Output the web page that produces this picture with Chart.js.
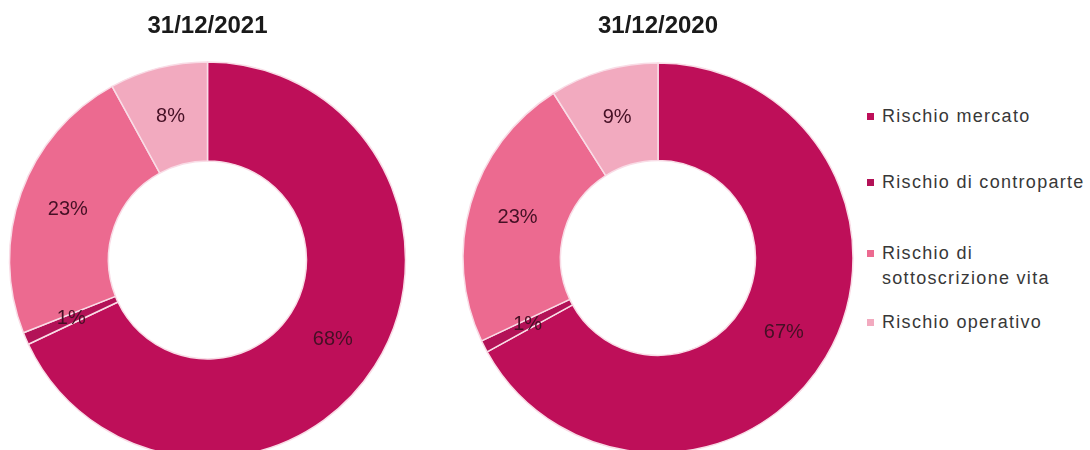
<!DOCTYPE html>
<html lang="it">
  <head>
    <meta charset="UTF-8" />
    <title>Requisito di capitale per rischio</title>
    <style>
      body {
        margin: 0;
        width: 1090px;
        height: 450px;
        overflow: hidden;
        background: #ffffff;
        font-family: Arial, "Liberation Sans", sans-serif;
        position: relative;
      }
      .chart-box {
        position: absolute;
        top: 0;
      }
      #box2021 {
        left: 0;
      }
      #box2020 {
        left: 451px;
      }
      #legend {
        position: absolute;
        left: 866px;
        top: 0;
        width: 224px;
        height: 450px;
      }
      .legend-item {
        position: absolute;
        left: 0;
        font-size: 18px;
        letter-spacing: 1.3px;
        line-height: 25px;
        color: #383838;
        padding-left: 16px;
        white-space: nowrap;
      }
      .legend-item .swatch {
        position: absolute;
        left: 1px;
        top: 9px;
        width: 7px;
        height: 7px;
      }
      .legend-item:nth-child(1) { top: 104px; }
      .legend-item:nth-child(2) { top: 170px; }
      .legend-item:nth-child(3) { top: 241px; }
      .legend-item:nth-child(4) { top: 310px; }
    </style>
  </head>
  <body>
    <div class="chart-box" id="box2021">
      <canvas id="chart2021" width="415" height="458"></canvas>
    </div>
    <div class="chart-box" id="box2020">
      <canvas id="chart2020" width="414" height="454"></canvas>
    </div>
    <div id="legend"></div>

    <script src="https://cdn.jsdelivr.net/npm/chart.js"></script>
    <script>
      // categorie (una voce su due righe nella legenda)
      const labels = [
        "Rischio mercato",
        "Rischio di controparte",
        ["Rischio di", "sottoscrizione vita"],
        "Rischio operativo",
      ];
      const values2021 = [68, 1, 23, 8];
      const values2020 = [67, 1, 23, 9];
      const title2021 = "31/12/2021";
      const title2020 = "31/12/2020";
      const colors = ["#BE0F59", "#B31257", "#EC6A90", "#F2AABF"];

      // etichette percentuali al centro di ogni spicchio
      const percentLabels = {
        id: "percentLabels",
        afterDatasetsDraw(chart) {
          const ctx = chart.ctx;
          const meta = chart.getDatasetMeta(0);
          const data = chart.data.datasets[0].data;
          ctx.save();
          ctx.font = '20px Arial, "Liberation Sans", sans-serif';
          ctx.fillStyle = "#451025";
          ctx.textAlign = "center";
          ctx.textBaseline = "middle";
          meta.data.forEach((arc, i) => {
            const pos = arc.tooltipPosition();
            ctx.fillText(data[i] + "%", pos.x, pos.y);
          });
          ctx.restore();
        },
      };

      function makeDoughnut(canvasId, title, values, radius) {
        return new Chart(document.getElementById(canvasId), {
          type: "doughnut",
          data: {
            labels: labels,
            datasets: [
              {
                data: values,
                backgroundColor: colors,
                borderColor: "#F9DCE6",
                borderWidth: 1.5,
                radius: radius,
              },
            ],
          },
          options: {
            responsive: false,
            animation: false,
            cutout: "50%",
            rotation: 0,
            plugins: {
              legend: { display: false },
              tooltip: { enabled: false },
              title: {
                display: true,
                text: title,
                color: "#1a1a1a",
                font: {
                  family: 'Arial, "Liberation Sans", sans-serif',
                  size: 24,
                  weight: "bold",
                },
                padding: { top: 12, bottom: 21 },
              },
            },
          },
          plugins: [percentLabels],
        });
      }

      makeDoughnut("chart2021", title2021, values2021, 198);
      makeDoughnut("chart2020", title2020, values2020, 195);

      // legenda comune a destra
      const legend = document.getElementById("legend");
      labels.forEach((label, i) => {
        const item = document.createElement("div");
        item.className = "legend-item";
        const swatch = document.createElement("span");
        swatch.className = "swatch";
        swatch.style.background = colors[i];
        item.appendChild(swatch);
        const lines = Array.isArray(label) ? label : [label];
        lines.forEach((line, j) => {
          if (j > 0) item.appendChild(document.createElement("br"));
          item.appendChild(document.createTextNode(line));
        });
        legend.appendChild(item);
      });
    </script>
  </body>
</html>
